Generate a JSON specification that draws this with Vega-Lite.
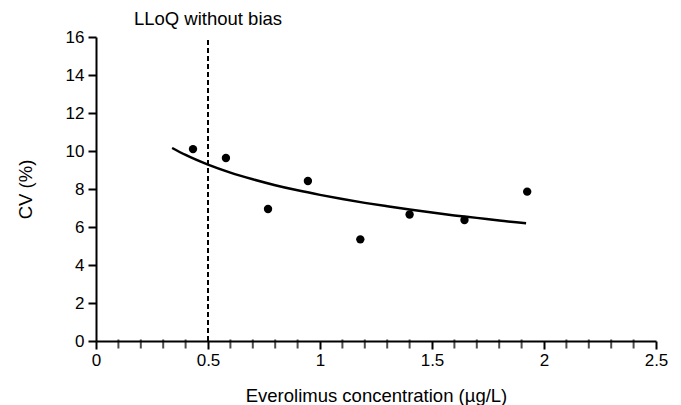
{
  "$schema": "https://vega.github.io/schema/vega-lite/v6.json",
  "width": 560,
  "height": 304,
  "autosize": {"type": "none"},
  "padding": {"left": 96, "top": 37, "right": 25, "bottom": 64},
  "background": "white",
  "config": {
    "view": {"stroke": null},
    "font": "Liberation Sans",
    "axis": {
      "domainColor": "black", "domainWidth": 2, "tickColor": "black", "tickWidth": 2,
      "labelColor": "black", "labelFontSize": 17, "titleColor": "black", "titleFontSize": 18.5,
      "titleFontWeight": "normal", "grid": false, "labelFont": "Liberation Sans", "titleFont": "Liberation Sans",
      "labelOverlap": false, "labelFlush": false
    }
  },
  "datasets": {
    "points": [
      {"conc": 0.433, "cv": 10.1},
      {"conc": 0.58, "cv": 9.63},
      {"conc": 0.768, "cv": 6.95},
      {"conc": 0.946, "cv": 8.42},
      {"conc": 1.18, "cv": 5.35},
      {"conc": 1.40, "cv": 6.66},
      {"conc": 1.645, "cv": 6.37},
      {"conc": 1.925, "cv": 7.86}
    ],
    "fit": [
      {"conc": 0.34, "cv": 10.16},
      {"conc": 0.4, "cv": 9.79},
      {"conc": 0.5, "cv": 9.28},
      {"conc": 0.6, "cv": 8.86},
      {"conc": 0.7, "cv": 8.51},
      {"conc": 0.8, "cv": 8.20},
      {"conc": 0.9, "cv": 7.93},
      {"conc": 1.0, "cv": 7.69},
      {"conc": 1.1, "cv": 7.47},
      {"conc": 1.2, "cv": 7.27},
      {"conc": 1.3, "cv": 7.09},
      {"conc": 1.4, "cv": 6.92},
      {"conc": 1.5, "cv": 6.76},
      {"conc": 1.6, "cv": 6.61},
      {"conc": 1.7, "cv": 6.48},
      {"conc": 1.8, "cv": 6.34},
      {"conc": 1.92, "cv": 6.20}
    ],
    "lloq": [
      {"conc": 0.5, "y0": 0, "y1": 16, "ty": 16.95, "label": "LLoQ without bias"}
    ]
  },
  "layer": [
    {
      "data": {"name": "lloq"},
      "mark": {"type": "rule", "strokeDash": [5, 3], "strokeWidth": 2, "color": "black"},
      "encoding": {
        "x": {"field": "conc", "type": "quantitative", "scale": {"domain": [0, 2.5], "nice": false},
          "axis": {"title": "Everolimus concentration (µg/L)", "tickCount": 5, "format": "~g", "tickSize": 8, "labelPadding": 3, "titlePadding": 18}},
        "y": {"field": "y0", "type": "quantitative", "scale": {"domain": [0, 16], "nice": false},
          "axis": {"title": "CV (%)", "tickCount": 8, "tickSize": 8, "labelPadding": 4, "titlePadding": 30}},
        "y2": {"field": "y1"}
      }
    },
    {
      "data": {"values": [{"t": 0.1}, {"t": 0.2}, {"t": 0.3}, {"t": 0.4}, {"t": 0.6}, {"t": 0.7}, {"t": 0.8}, {"t": 0.9}, {"t": 1.1}, {"t": 1.2}, {"t": 1.3}, {"t": 1.4}, {"t": 1.6}, {"t": 1.7}, {"t": 1.8}, {"t": 1.9}, {"t": 2.1}, {"t": 2.2}, {"t": 2.3}, {"t": 2.4}]},
      "mark": {"type": "tick", "orient": "vertical", "color": "black", "thickness": 2, "size": 9, "yOffset": 3},
      "encoding": {
        "x": {"field": "t", "type": "quantitative"},
        "y": {"datum": 0, "type": "quantitative"}
      }
    },
    {
      "data": {"name": "lloq"},
      "mark": {"type": "text", "fontSize": 18.5, "color": "black", "font": "Liberation Sans", "baseline": "middle"},
      "encoding": {
        "x": {"field": "conc", "type": "quantitative"},
        "y": {"field": "ty", "type": "quantitative"},
        "text": {"field": "label"}
      }
    },
    {
      "data": {"name": "fit"},
      "mark": {"type": "line", "color": "black", "strokeWidth": 2.5, "interpolate": "monotone"},
      "encoding": {
        "x": {"field": "conc", "type": "quantitative"},
        "y": {"field": "cv", "type": "quantitative"}
      }
    },
    {
      "data": {"name": "points"},
      "mark": {"type": "circle", "color": "black", "opacity": 1, "size": 70},
      "encoding": {
        "x": {"field": "conc", "type": "quantitative"},
        "y": {"field": "cv", "type": "quantitative"}
      }
    }
  ]
}
